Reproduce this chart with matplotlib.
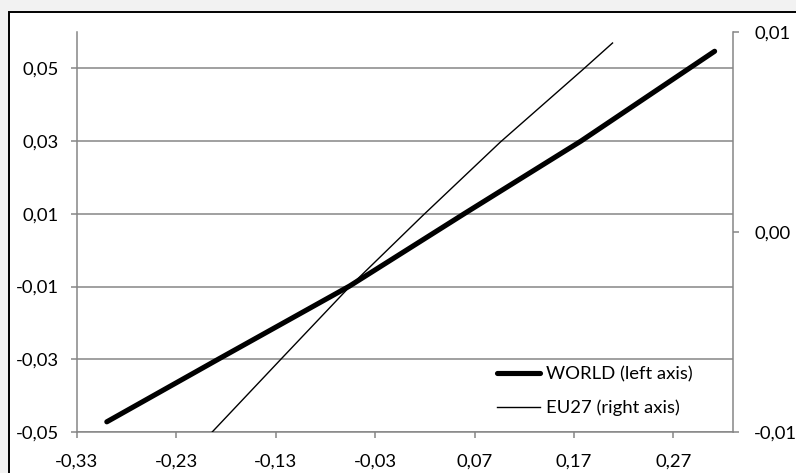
import matplotlib
matplotlib.use("Agg")
import matplotlib.pyplot as plt
from matplotlib.patches import Rectangle
from matplotlib.ticker import FuncFormatter

# WORLD (left axis)
world_x = [-0.300, -0.188, -0.056, 0.060, 0.177, 0.3115]
world_y = [-0.0472, -0.0300, -0.0099, 0.0101, 0.0300, 0.0547]

# EU27 (right axis)
eu_x = [-0.194, -0.1256, -0.055, 0.0174, 0.096, 0.1796, 0.2088]
eu_y = [-0.0100, -0.0064, -0.0027, 0.0008, 0.0045, 0.00815, 0.00945]

x_ticks = [-0.33, -0.23, -0.13, -0.03, 0.07, 0.17, 0.27]
left_ticks = [-0.05, -0.03, -0.01, 0.01, 0.03, 0.05]
right_ticks = [-0.01, 0.00, 0.01]

W, H = 796, 473
FONT = "Lato"
FS = 13.3
GRAY = "#868686"

comma = FuncFormatter(lambda v, pos: f"{v:.2f}".replace(".", ",").replace("-0,00", "0,00"))

fig = plt.figure(figsize=(W / 100, H / 100), dpi=100, facecolor="#f2f2f2")
# chart area (white, black border, cut off on right/bottom)
fig.patches.append(Rectangle((9 / W, -0.2), 1.2, 1.2 - 12 / H,
                             transform=fig.transFigure, facecolor="white",
                             edgecolor="black", lw=1.4, zorder=-10))

ax = fig.add_axes([77 / W, 1 - 432 / H, (733 - 77) / W, (432 - 32) / H])
ax.set_facecolor("none")
ax.set_xlim(-0.33, 0.33)
ax.set_ylim(-0.05, 0.06)
ax.set_xticks(x_ticks)
ax.set_yticks(left_ticks)
ax.xaxis.set_major_formatter(comma)
ax.yaxis.set_major_formatter(comma)
ax.grid(axis="y", color=GRAY, lw=1.1)
ax.set_axisbelow(True)
for s in ["top", "right"]:
    ax.spines[s].set_visible(False)
for s in ["left", "bottom"]:
    ax.spines[s].set_color(GRAY)
    ax.spines[s].set_linewidth(1.1)
ax.tick_params(axis="both", direction="out", length=4.3, width=1.1, color=GRAY,
               labelsize=FS, labelcolor="black")
ax.tick_params(axis="y", pad=9)
ax.tick_params(axis="x", pad=11.5)

l1, = ax.plot(world_x, world_y, color="black", lw=3.7, solid_capstyle="round",
              label="WORLD (left axis)")

ax2 = ax.twinx()
ax2.set_ylim(-0.01, 0.01)
ax2.set_yticks(right_ticks)
ax2.yaxis.set_major_formatter(comma)
for s in ["top", "left", "bottom"]:
    ax2.spines[s].set_visible(False)
ax2.spines["right"].set_color(GRAY)
ax2.spines["right"].set_linewidth(1.1)
ax2.tick_params(axis="y", direction="out", length=4.3, width=1.1, color=GRAY,
                labelsize=FS, labelcolor="black", pad=11)

l2, = ax2.plot(eu_x, eu_y, color="black", lw=1.0, label="EU27 (right axis)")

for a in (ax, ax2):
    for t in a.get_xticklabels() + a.get_yticklabels():
        t.set_family(FONT)

leg = ax2.legend(handles=[l1, l2], loc="upper left",
                 bbox_to_anchor=(497 / W, 1 - 366 / H), bbox_transform=fig.transFigure,
                 frameon=False, borderpad=0, borderaxespad=0,
                 handlelength=2.35, handletextpad=0.3, labelspacing=0.95,
                 prop={"family": FONT, "size": FS})

fig.savefig("out.png", dpi=100, facecolor=fig.get_facecolor())
